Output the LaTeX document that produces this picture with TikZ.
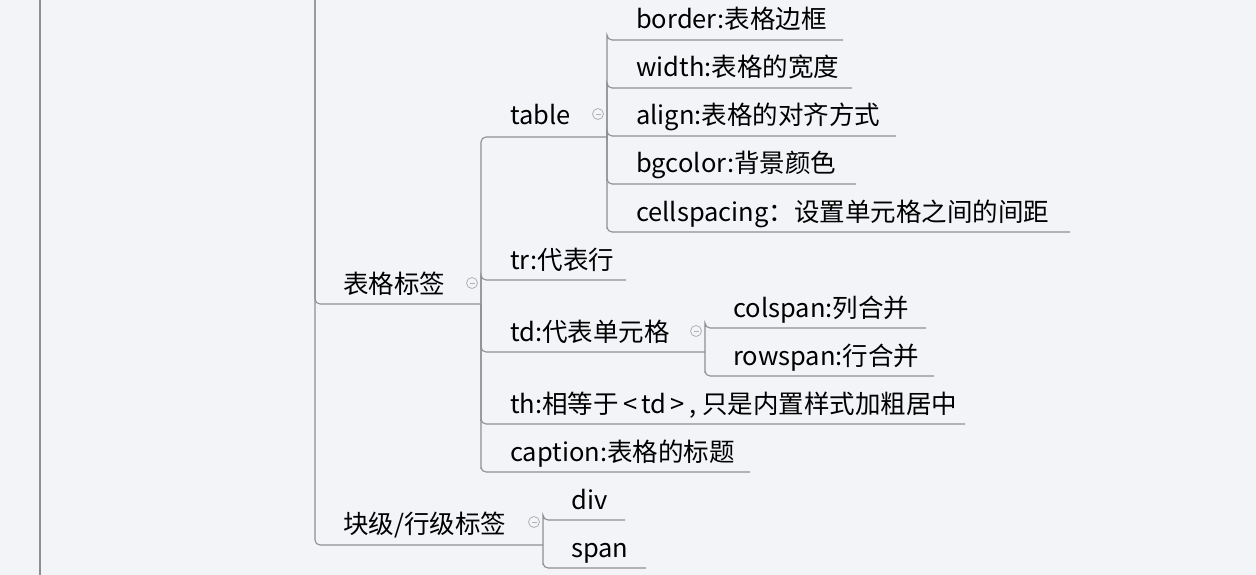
\documentclass[tikz,border=0pt]{standalone}
\usepackage{fontspec}
\setmainfont{Noto Sans CJK SC}
\definecolor{bg}{HTML}{F3F4F8}
\definecolor{ln}{HTML}{8E8E93}
\begin{document}
\begin{tikzpicture}[x=1pt,y=-1pt,
  lbl/.style={anchor=base west,inner sep=0pt,font=\fontsize{25.5}{25.5}\selectfont},
  con/.style={draw=ln,line width=1.1pt,rounded corners=5pt},
  fold/.style={circle,draw=ln!70,fill=bg,minimum size=11pt,inner sep=0pt,line width=0.8pt,
    path picture={\draw[ln!70,line width=0.6pt] ([xshift=-2.5pt]path picture bounding box.center)--([xshift=2.5pt]path picture bounding box.center);}}]
\fill[bg] (0,0) rectangle (1256,575);
\useasboundingbox (0,0) rectangle (1256,575);
% coordinates
\coordinate (top1) at (40,0); \coordinate (bot1) at (40,575);
\coordinate (top2) at (315,0);
\coordinate (bgE) at (481,304);
\coordinate (kjE) at (543,545);
\coordinate (tbE) at (607,137);
\coordinate (tdE) at (705,352);
% labels
\node[lbl] (bg) at (343,293) {表格标签};
\node[lbl] (kj) at (343,533) {块级/行级标签};
\node[lbl] (tb) at (510,125) {table};
\node[lbl] (tr) at (510,269) {tr:代表行};
\node[lbl] (td) at (510,341) {td:代表单元格};
\node[lbl] (th) at (510,413) {th:相等于\,<\,td\,>\,, 只是内置样式加粗居中};
\node[lbl] (cp) at (510,461) {caption:表格的标题};
\node[lbl] (b1) at (636,29) {border:表格边框};
\node[lbl] (b2) at (636,77) {width:表格的宽度};
\node[lbl] (b3) at (636,125) {align:表格的对齐方式};
\node[lbl] (b4) at (636,173) {bgcolor:背景颜色};
\node[lbl] (b5) at (636,221) {cellspacing：设置单元格之间的间距};
\node[lbl] (c1) at (733,317) {colspan:列合并};
\node[lbl] (c2) at (733,365) {rowspan:行合并};
\node[lbl] (dv) at (571,509) {div};
\node[lbl] (sp) at (571,557) {span};
% connectors
\draw[draw=ln,line width=1.1pt] (top1) -- (bot1);
\draw[con] (top2) |- (bgE);
\draw[con] (top2) |- (kjE);
\draw[con] (bgE) |- (tbE);
\draw[con] (bgE) |- (481,280) -- (626,280);
\draw[con] (bgE) |- (tdE);
\draw[con] (bgE) |- (481,424) -- (965,424);
\draw[con] (bgE) |- (481,472) -- (750,472);
\draw[con] (tbE) |- (607,40) -- (843,40);
\draw[con] (tbE) |- (607,88) -- (852,88);
\draw[con] (tbE) |- (607,136) -- (896,136);
\draw[con] (tbE) |- (607,184) -- (856,184);
\draw[con] (tbE) |- (607,232) -- (1070,232);
\draw[con] (tdE) |- (705,328) -- (926,328);
\draw[con] (tdE) |- (705,376) -- (934,376);
\draw[con] (kjE) |- (543,520) -- (625,520);
\draw[con] (kjE) |- (543,568) -- (646,568);
% fold markers
\node[fold] (f1) at (472,283) {};
\node[fold] (f2) at (598,114) {};
\node[fold] (f3) at (696,331) {};
\node[fold] (f4) at (534,522) {};
\end{tikzpicture}
\end{document}
